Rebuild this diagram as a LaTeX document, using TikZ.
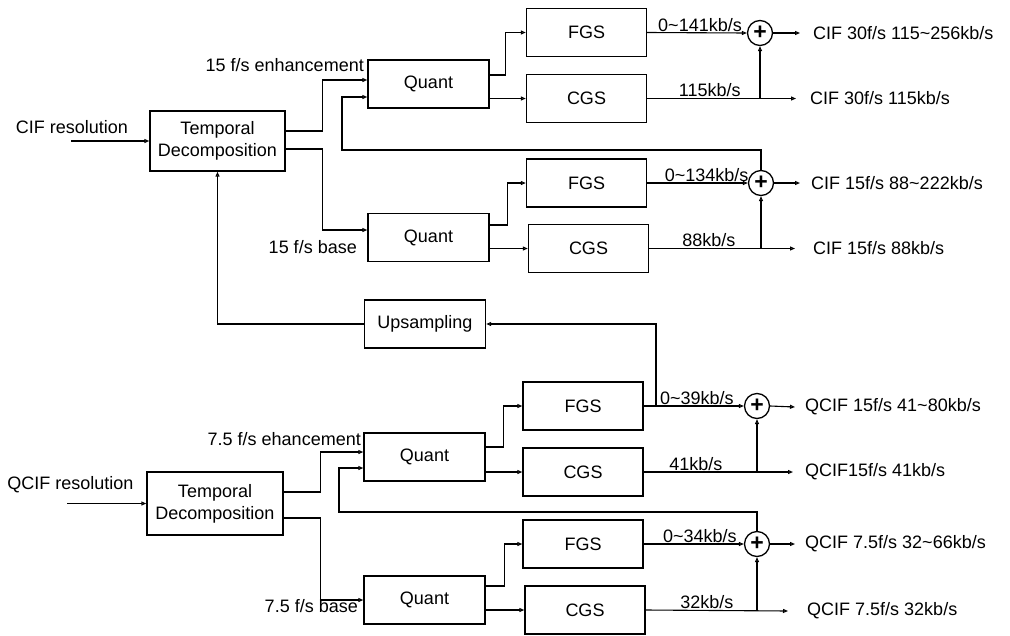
\documentclass[tikz,border=0pt]{standalone}
\usepackage{fontspec}
\setmainfont{Liberation Sans}
\usetikzlibrary{arrows.meta,calc}
\begin{document}
\begin{tikzpicture}[x=1pt,y=-1pt,
  font=\fontsize{18}{22}\selectfont,
  blk/.style={draw, line width=1.4pt, minimum width=120pt, minimum height=48pt, inner sep=0pt, align=center},
  sumc/.style={draw, circle, line width=1.3pt, minimum size=25pt, inner sep=0pt, font=\fontsize{23}{23}\selectfont\bfseries},
  conn/.style={line width=1.1pt},
  arr/.style={conn, -{Triangle[open, length=5pt, width=4pt]}},
  rate/.style={above, inner sep=1pt},
  outlbl/.style={anchor=west, inner sep=0pt},
  sidelbl/.style={inner sep=0pt}]
\useasboundingbox (0,0) rectangle (1010,635);

% ---------- upper (CIF) branch ----------
\node[blk, minimum width=135pt, minimum height=60pt] (td1) at (217.5,141) {Temporal\\Decomposition};
\node[blk, minimum width=121pt] (q1) at (428.5,84) {Quant};
\node[blk, minimum width=121pt] (q2) at (428.5,237.5) {Quant};
\node[blk] (fgs1) at (586.5,32.5) {FGS};
\node[blk] (cgs1) at (586.5,98.5) {CGS};
\node[blk] (fgs2) at (586.5,183) {FGS};
\node[blk] (cgs2) at (588.5,248.5) {CGS};
\node[sumc] (s1) at (760,33) {+};
\node[sumc] (s2) at (761,183) {+};

\node[sidelbl] (cifres) at (72,127) {CIF resolution};
\coordinate (in1) at (71,141);
\node[sidelbl, anchor=east] (enh1) at (364,65) {15 f/s enhancement};
\node[sidelbl, anchor=east] (base1) at (357,247) {15 f/s base};

\node[outlbl] (o1) at (813,33) {CIF 30f/s 115\textasciitilde256kb/s};
\node[outlbl] (o2) at (810,98.5) {CIF 30f/s 115kb/s};
\node[outlbl] (o3) at (811,183) {CIF 15f/s 88\textasciitilde222kb/s};
\node[outlbl] (o4) at (813,248.5) {CIF 15f/s 88kb/s};

\draw[arr] (in1) -- (td1.west);
\draw[arr] ([yshift=10pt]td1.east) -- ++(37,0) |- ([yshift=4pt]q1.west);
\draw[arr] ([yshift=-8pt]td1.east) -- ++(37,0) |- ([yshift=7.5pt]q2.west);

\draw[arr] ([yshift=9pt]q1.east) -- ++(16,0) |- (fgs1.west);
\draw[arr] (q1.east |- cgs1.west) -- (cgs1.west);
\draw[arr] ([yshift=12.5pt]q2.east) -- ++(18,0) |- (fgs2.west);
\draw[arr] (q2.east |- cgs2.west) -- (cgs2.west);

\draw[arr] (fgs1.east) -- node[rate, pos=0.53]{0\textasciitilde141kb/s} (s1.west);
\draw[arr] (s1.east) -- ([xshift=-13pt]o1.west);
\draw[arr] (cgs1.east) -- node[rate, pos=0.42]{115kb/s} ([xshift=-14pt]o2.west);
\draw[arr] (s1 |- cgs1.east) -- (s1.south);

\draw[arr] (fgs2.east) -- node[rate, pos=0.59]{0\textasciitilde134kb/s} (s2.west);
\draw[arr] (s2.east) -- ([xshift=-11pt]o3.west);
\draw[arr] (cgs2.east) -- node[rate, pos=0.41]{88kb/s} ([xshift=-18pt]o4.west);
\draw[arr] (s2 |- cgs2.east) -- (s2.south);

\coordinate (fb1) at (342,150);
\draw[arr] (s2.north) |- (fb1) |- ([yshift=-13pt]q1.west);

% ---------- upsampling ----------
\node[blk, minimum width=121pt] (up) at (425,324) {Upsampling};

% ---------- lower (QCIF) branch ----------
\node[blk, minimum width=136pt, minimum height=63pt] (td2) at (215,503.5) {Temporal\\Decomposition};
\node[blk, minimum width=121pt] (q3) at (424.5,457) {Quant};
\node[blk, minimum width=121pt] (q4) at (424.5,600) {Quant};
\node[blk] (fgs3) at (583,406) {FGS};
\node[blk] (cgs3) at (583,472) {CGS};
\node[blk] (fgs4) at (583,544) {FGS};
\node[blk] (cgs4) at (585,610) {CGS};
\node[sumc] (s3) at (757,406) {+};
\node[sumc] (s4) at (757,544) {+};

\node[sidelbl] (qcifres) at (70.5,485) {QCIF resolution};
\coordinate (in2) at (67,503.5);
\node[sidelbl, anchor=east] (enh2) at (361,439) {7.5 f/s ehancement};
\node[sidelbl, anchor=east] (base2) at (358,606) {7.5 f/s base};

\node[outlbl] (o5) at (805,407) {QCIF 15f/s 41\textasciitilde80kb/s};
\node[outlbl] (o6) at (805,472) {QCIF15f/s 41kb/s};
\node[outlbl] (o7) at (805,544) {QCIF 7.5f/s 32\textasciitilde66kb/s};
\node[outlbl] (o8) at (807,611) {QCIF 7.5f/s 32kb/s};

\draw[arr] (in2) -- (td2.west);
\draw[arr] ([yshift=11.5pt]td2.east) -- ++(37,0) |- ([yshift=5pt]q3.west);
\draw[arr] ([yshift=-14.5pt]td2.east) -- ++(37,0) |- (q4.west);

\draw[arr] ([yshift=10pt]q3.east) -- ++(18,0) |- (fgs3.west);
\draw[arr] (q3.east |- cgs3.west) -- (cgs3.west);
\draw[arr] ([yshift=14pt]q4.east) -- ++(19,0) |- (fgs4.west);
\draw[arr] (q4.east |- cgs4.west) -- (cgs4.west);

\draw[arr] (fgs3.east) -- node[rate, pos=0.53]{0\textasciitilde39kb/s} (s3.west);
\draw[arr] (s3.east) -- ([xshift=-10pt]o5.west);
\draw[arr] (cgs3.east) -- node[rate, pos=0.35]{41kb/s} ([xshift=-12pt]o6.west);
\draw[arr] (s3 |- cgs3.east) -- (s3.south);

\draw[arr] (fgs4.east) -- node[rate, pos=0.56]{0\textasciitilde34kb/s} (s4.west);
\draw[arr] (s4.east) -- ([xshift=-10pt]o7.west);
\draw[arr] (cgs4.east) -- node[rate, pos=0.43]{32kb/s} ([xshift=-19pt]o8.west);
\draw[arr] (s4 |- cgs4.east) -- (s4.south);

\coordinate (fb2) at (339,512);
\draw[arr] (s4.north) |- (fb2) |- ([yshift=-11pt]q3.west);

% ---------- upsampling feedback ----------
\coordinate (br) at (656,406);
\draw[arr] (br) |- (up.east);
\draw[arr] (up.west) -| (td1.south);
\end{tikzpicture}
\end{document}
